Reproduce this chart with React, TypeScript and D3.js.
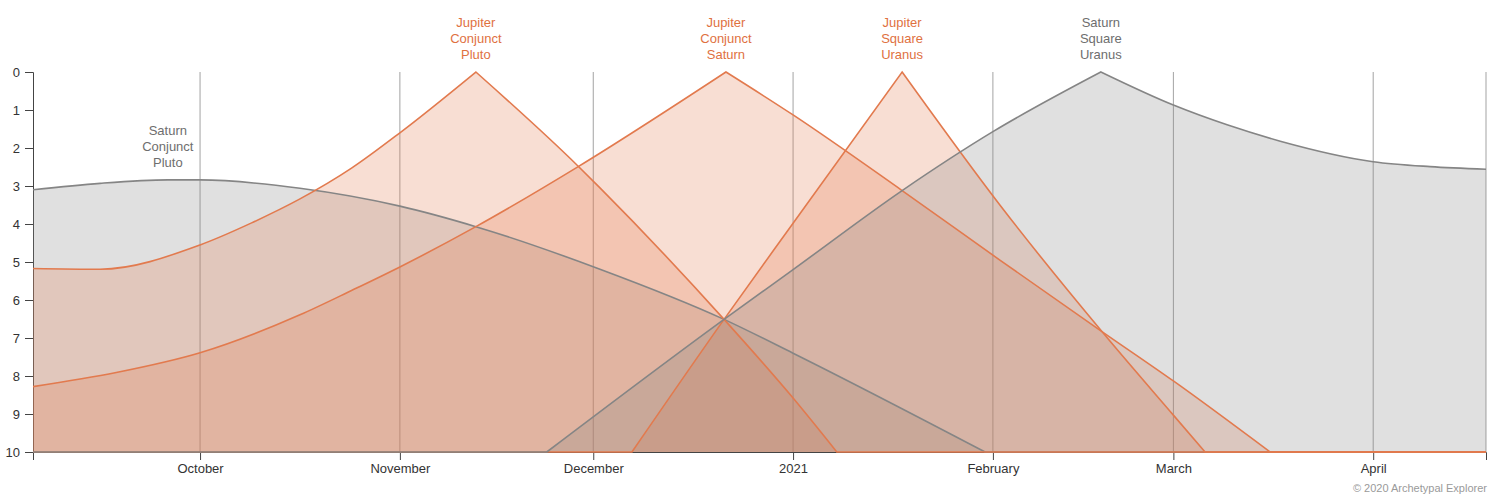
import React, { useEffect, useRef } from "react";
import * as d3 from "d3";

type Pt = [string, number];

const startDate = "2020-09-05T02:00";
const endDate = "2021-04-18T12:00";

const seriesNames = [
  "Saturn Conjunct Pluto",
  "Jupiter Conjunct Pluto",
  "Jupiter Conjunct Saturn",
  "Jupiter Square Uranus",
  "Saturn Square Uranus",
];

const saturnConjunctPluto: Pt[] = [
  ["2020-09-05T02:00", 3.1],
  ["2020-09-15T12:00", 2.93],
  ["2020-09-26T00:00", 2.84],
  ["2020-10-01T00:00", 2.84],
  ["2020-10-16T12:00", 3.06],
  ["2020-11-01T00:00", 3.53],
  ["2020-11-12T19:00", 4.07],
  ["2020-12-02T01:00", 5.19],
  ["2020-12-21T07:00", 6.51],
  ["2021-01-01T00:00", 7.4],
  ["2021-01-30T19:00", 10],
  ["2021-04-18T12:00", 10],
];

const jupiterConjunctPluto: Pt[] = [
  ["2020-09-05T02:00", 5.17],
  ["2020-09-15T12:00", 5.19],
  ["2020-10-01T00:00", 4.55],
  ["2020-10-09T00:00", 3.97],
  ["2020-10-16T12:00", 3.34],
  ["2020-10-24T12:00", 2.53],
  ["2020-11-01T00:00", 1.6],
  ["2020-11-12T19:00", 0],
  ["2020-11-28T16:00", 2.48],
  ["2020-12-02T01:00", 3.05],
  ["2020-12-21T07:00", 6.51],
  ["2021-01-01T00:00", 8.58],
  ["2021-01-07T19:00", 10],
  ["2021-04-18T12:00", 10],
];

const jupiterConjunctSaturn: Pt[] = [
  ["2020-09-05T02:00", 8.28],
  ["2020-09-18T00:00", 7.91],
  ["2020-10-01T00:00", 7.39],
  ["2020-10-16T12:00", 6.39],
  ["2020-10-24T12:00", 5.75],
  ["2020-11-01T00:00", 5.13],
  ["2020-11-12T19:00", 4.07],
  ["2020-11-28T16:00", 2.49],
  ["2020-12-21T14:00", 0],
  ["2021-01-01T00:00", 1.13],
  ["2021-01-17T22:00", 3.12],
  ["2021-02-02T02:00", 4.95],
  ["2021-02-17T22:00", 6.83],
  ["2021-03-01T00:00", 8.13],
  ["2021-03-16T00:00", 10],
  ["2021-04-18T12:00", 10],
];

const jupiterSquareUranus: Pt[] = [
  ["2020-09-05T02:00", 10],
  ["2020-12-07T00:00", 10],
  ["2020-12-21T07:00", 6.51],
  ["2021-01-01T00:00", 3.98],
  ["2021-01-17T22:00", 0],
  ["2021-02-02T02:00", 3.5],
  ["2021-02-17T22:00", 6.83],
  ["2021-03-01T00:00", 9.03],
  ["2021-03-05T22:00", 10],
  ["2021-04-18T12:00", 10],
];

const saturnSquareUranus: Pt[] = [
  ["2020-09-05T02:00", 10],
  ["2020-11-23T19:00", 10],
  ["2020-12-21T07:00", 6.51],
  ["2021-01-01T00:00", 5.2],
  ["2021-01-17T22:00", 3.12],
  ["2021-02-01T00:00", 1.57],
  ["2021-02-17T18:00", 0],
  ["2021-03-01T00:00", 0.87],
  ["2021-03-09T08:00", 1.39],
  ["2021-03-17T14:00", 1.82],
  ["2021-04-01T00:00", 2.36],
  ["2021-04-09T20:00", 2.49],
  ["2021-04-18T12:00", 2.56],
];

const seriesData = [
  saturnConjunctPluto,
  jupiterConjunctPluto,
  jupiterConjunctSaturn,
  jupiterSquareUranus,
  saturnSquareUranus,
];

const orbTicks = [0, 1, 2, 3, 4, 5, 6, 7, 8, 9, 10];
const credit = "© 2020 Archetypal Explorer";

type Row = { date: Date; orb: number };

const App: React.FC = () => {
  const svgRef = useRef<SVGSVGElement | null>(null);

  useEffect(() => {
    if (!svgRef.current) return;
    const svg = d3.select(svgRef.current);
    svg.selectAll("*").remove();

    const width = 1500;
    const height = 500;
    const margin = { top: 72, right: 14, bottom: 48, left: 33 };
    const innerWidth = width - margin.left - margin.right;
    const innerHeight = height - margin.top - margin.bottom;
    const font = "'Liberation Sans', Arial, Helvetica, sans-serif";

    const g = svg
      .append("g")
      .attr("transform", `translate(${margin.left},${margin.top})`);

    const x = d3
      .scaleTime()
      .domain([new Date(startDate), new Date(endDate)])
      .range([0, innerWidth]);
    const y = d3.scaleLinear().domain([0, 10]).range([0, innerHeight]);

    const colorFor = (name: string) =>
      name.startsWith("Jupiter") ? "#e27a4e" : "#858585";

    // month grid
    const months = x.ticks(d3.timeMonth.every(1)!);
    g.append("g")
      .selectAll("line")
      .data([...months.map((d) => x(d)), innerWidth])
      .enter()
      .append("line")
      .attr("x1", (d) => d)
      .attr("x2", (d) => d)
      .attr("y1", 0)
      .attr("y2", innerHeight)
      .attr("stroke", "#a3a3a3")
      .attr("stroke-width", 1);

    const yAxis = g
      .append("g")
      .call(
        d3
          .axisLeft(y)
          .tickValues(orbTicks)
          .tickSize(8)
          .tickPadding(5)
          .tickFormat((d) => `${d}`)
      );
    const xAxis = g
      .append("g")
      .attr("transform", `translate(0,${innerHeight})`)
      .call(d3.axisBottom(x).tickValues(months).tickSize(8).tickPadding(4));

    [yAxis, xAxis].forEach((ax) => {
      ax.selectAll("path, line").attr("stroke", "#444");
      ax.selectAll("text")
        .attr("fill", "#333")
        .style("font-family", font)
        .style("font-size", "13px");
    });

    const parsed: Row[][] = seriesData.map((s) =>
      s.map(([d, v]) => ({ date: new Date(d), orb: v }))
    );

    const line = d3
      .line<Row>()
      .x((d) => x(d.date))
      .y((d) => y(d.orb))
      .curve(d3.curveMonotoneX);

    // smooth between exact hits (orb 0) and the 10° cut-off, sharp at those points
    const pathFor = (pts: Row[]) => {
      const breaks = [0];
      pts.forEach((p, i) => {
        if (i > 0 && i < pts.length - 1 && (p.orb === 0 || p.orb === 10))
          breaks.push(i);
      });
      breaks.push(pts.length - 1);
      let d = "";
      for (let k = 0; k < breaks.length - 1; k++) {
        const seg = pts.slice(breaks[k], breaks[k + 1] + 1);
        const s = line(seg) || "";
        d += k === 0 ? s : "L" + s.slice(1);
      }
      return d;
    };

    const paths = parsed.map((pts) => pathFor(pts));

    parsed.forEach((pts, i) => {
      const first = x(pts[0].date);
      const last = x(pts[pts.length - 1].date);
      g.append("path")
        .attr("fill", colorFor(seriesNames[i]))
        .attr("fill-opacity", 0.25)
        .attr("d", `${paths[i]}L${last},${innerHeight}L${first},${innerHeight}Z`);
    });

    parsed.forEach((_, i) => {
      g.append("path")
        .attr("fill", "none")
        .attr("stroke", colorFor(seriesNames[i]))
        .attr("stroke-width", 1.6)
        .attr("stroke-linejoin", "miter")
        .attr("d", paths[i]);
    });

    // labels above each exact point
    parsed.forEach((pts, i) => {
      const best = pts[d3.minIndex(pts, (d) => d.orb)];
      const words = seriesNames[i].split(" ");
      const cx = x(best.date);
      const base = y(best.orb) - 13;
      g.append("g")
        .selectAll("text")
        .data(words)
        .enter()
        .append("text")
        .attr("x", cx)
        .attr("y", (_, k) => base - (words.length - 1 - k) * 16)
        .attr("text-anchor", "middle")
        .attr("fill", seriesNames[i].startsWith("Jupiter") ? "#e0713f" : "#6e6e6e")
        .style("font-family", font)
        .style("font-size", "13px")
        .text((d) => d);
    });

    svg
      .append("text")
      .attr("x", 1487)
      .attr("y", 492)
      .attr("text-anchor", "end")
      .attr("fill", "#9a9a9a")
      .style("font-family", font)
      .style("font-size", "11px")
      .text(credit);
  }, []);

  return (
    <svg
      ref={svgRef}
      width={1500}
      height={500}
      style={{ position: "absolute", left: 0, top: 0, background: "#fff" }}
    />
  );
};

export default App;
